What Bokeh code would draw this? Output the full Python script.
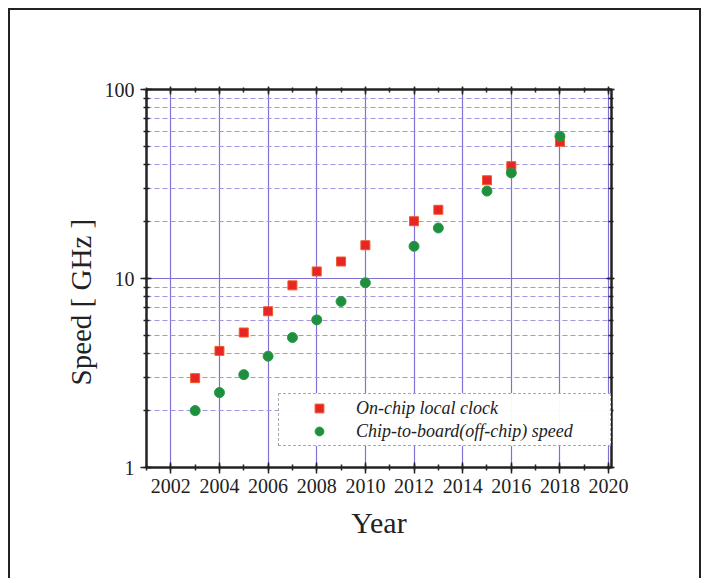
from bokeh.plotting import figure
from bokeh.models import (LinearAxis, LogAxis, SingleIntervalTicker, Range1d, Legend,
                          LegendItem, LogTicker, CustomLabelingPolicy, Title)
from bokeh.embed import file_html
from bokeh.resources import INLINE

years_clock = [2003, 2004, 2005, 2006, 2007, 2008, 2009, 2010, 2012, 2013, 2015, 2016, 2018]
clock_ghz = [2.97, 4.14, 5.18, 6.71, 9.2, 10.9, 12.3, 15.0, 20.1, 23.1, 33.1, 39.3, 52.9]

years_offchip = [2003, 2004, 2005, 2006, 2007, 2008, 2009, 2010, 2012, 2013, 2015, 2016, 2018]
offchip_ghz = [2.0, 2.49, 3.10, 3.88, 4.87, 6.04, 7.56, 9.49, 14.8, 18.5, 29.0, 36.2, 56.6]

x_ticks = [2002, 2004, 2006, 2008, 2010, 2012, 2014, 2016, 2018, 2020]
y_ticks = [1, 10, 100]

FONT = "Liberation Serif"
GRID = "#8070d8"
MINOR_GRID = "#a592e0"
H = 570

p = figure(width=693, height=H, output_backend="svg", toolbar_location=None,
           y_axis_type="log", x_range=Range1d(2001, 2020.12), y_range=Range1d(1, 100),
           min_border_left=136, min_border_right=92, min_border_top=79, min_border_bottom=H - 457)
p.styles = {"border-top": "2px solid #222", "border-left": "2px solid #222",
            "border-right": "2px solid #222", "margin-left": "8px", "margin-top": "8px"}
p.background_fill_color = "white"
p.border_fill_color = "white"
p.outline_line_color = "#222"
p.outline_line_width = 2

p.xaxis.ticker = SingleIntervalTicker(interval=2, num_minor_ticks=2)
p.yaxis.ticker = LogTicker(num_minor_ticks=10)

for ax in (p.xaxis[0], p.yaxis[0]):
    ax.axis_line_color = "#222"
    ax.axis_line_width = 2
    ax.major_tick_line_color = "#222"
    ax.minor_tick_line_color = "#222"
    ax.major_tick_line_width = 1.5
    ax.minor_tick_line_width = 1.5
    ax.major_tick_in = 5
    ax.major_tick_out = 6
    ax.minor_tick_in = 3
    ax.minor_tick_out = 3
    ax.major_label_text_font = FONT
    ax.major_label_text_font_size = "20px"
    ax.major_label_text_color = "#222"
    ax.axis_label_text_font = FONT
    ax.axis_label_text_font_size = "30px"
    ax.axis_label_text_font_style = "normal"
    ax.axis_label_text_color = "#222"

p.xaxis.axis_label = "Year"
p.xaxis.axis_label_standoff = 10
p.yaxis.major_label_overrides = {1: "1", 10: "10", 100: "100"}
p.yaxis.major_label_standoff = 6

# y axis title (sits a little below the frame's centre, as in the original)
ytitle = Title(text="Speed [ GHz ]", align="left", offset=82, text_font=FONT,
               text_font_size="29px", text_font_style="normal", text_color="#222",
               standoff=9)
p.add_layout(ytitle, "left")

# top and right axes: ticks only
no_labels = CustomLabelingPolicy(code="""
for (const i of [...indices]) { indices.unset(i) }
return indices
""")
top = LinearAxis(ticker=SingleIntervalTicker(interval=2, num_minor_ticks=2),
                 major_label_policy=no_labels)
right = LogAxis(ticker=LogTicker(num_minor_ticks=10), major_label_policy=no_labels)
for ax in (top, right):
    ax.axis_line_color = "#222"
    ax.axis_line_width = 2
    ax.major_tick_line_color = "#222"
    ax.minor_tick_line_color = "#222"
    ax.major_tick_line_width = 1.5
    ax.minor_tick_line_width = 1.5
    ax.major_tick_in = 5
    ax.major_tick_out = 3
    ax.minor_tick_in = 3
    ax.minor_tick_out = 2
    ax.major_label_standoff = 0
p.add_layout(top, "above")
p.add_layout(right, "right")

p.xgrid.grid_line_color = GRID
p.xgrid.grid_line_width = 1.2
p.xgrid.minor_grid_line_color = None
p.ygrid.grid_line_color = GRID
p.ygrid.grid_line_width = 1.2
p.ygrid.minor_grid_line_color = MINOR_GRID
p.ygrid.minor_grid_line_dash = "5 3"
p.ygrid.minor_grid_line_width = 1.2

r1 = p.scatter(years_clock, clock_ghz, marker="square", size=9,
               fill_color="#e82424", line_color="#f05a28", line_width=1)
r2 = p.scatter(years_offchip, offchip_ghz, marker="circle", size=10,
               fill_color="#1f8f3f", line_color="#2a9a48", line_width=1)

legend = Legend(items=[LegendItem(label="On-chip local clock", renderers=[r1]),
                       LegendItem(label="Chip-to-board(off-chip) speed", renderers=[r2])],
                location=(132, 21))
legend.label_text_font = FONT
legend.label_text_font_style = "italic"
legend.label_text_font_size = "18px"
legend.label_text_color = "#222"
legend.border_line_color = "#555"
legend.border_line_dash = "2 2"
legend.border_line_width = 1
legend.background_fill_color = "white"
legend.padding = 3
legend.spacing = 1
legend.glyph_width = 74
legend.glyph_height = 22
legend.label_height = 22
legend.label_standoff = 0
legend.label_width = 251
legend.margin = 0
p.add_layout(legend, "center")

open("out.html", "w").write(file_html(p, INLINE))
